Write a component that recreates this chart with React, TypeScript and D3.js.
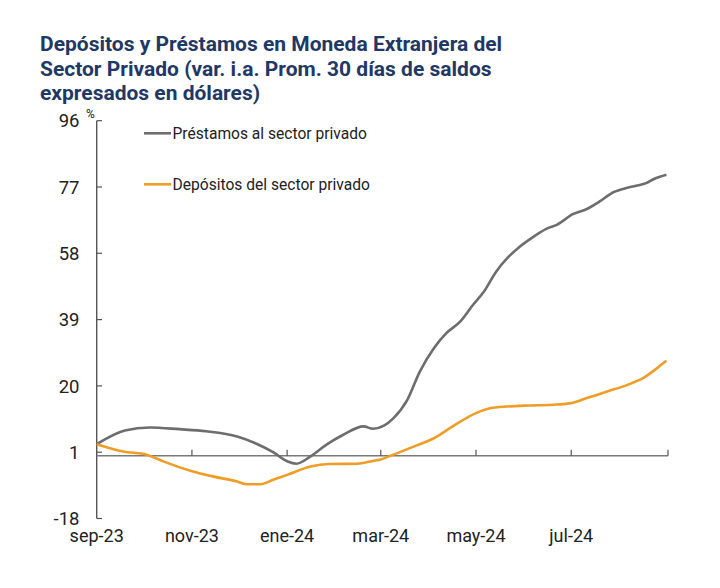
import React from "react";
import * as d3 from "d3";

const titleLines = [
  "Depósitos y Préstamos en Moneda Extranjera del",
  "Sector Privado (var. i.a. Prom. 30 días de saldos",
  "expresados en dólares)",
];

const yTicks = [96, 77, 58, 39, 20, 1, -18];
const xTickDates = ["2023-11-01", "2024-01-01", "2024-03-01", "2024-05-01", "2024-07-01", "2024-09-01"];
const xLabelDates = ["2023-09-01", "2023-11-01", "2024-01-01", "2024-03-01", "2024-05-01", "2024-07-01"];
const xLabels = ["sep-23", "nov-23", "ene-24", "mar-24", "may-24", "jul-24"];

const loanDates = [
  "2023-09-01", "2023-09-19", "2023-10-05", "2023-10-24", "2023-11-10", "2023-11-30",
  "2023-12-12", "2023-12-23", "2024-01-01", "2024-01-07", "2024-01-16", "2024-01-26",
  "2024-02-06", "2024-02-19", "2024-02-25", "2024-03-03", "2024-03-09", "2024-03-18",
  "2024-03-26", "2024-04-04", "2024-04-12", "2024-04-21", "2024-04-29", "2024-05-06",
  "2024-05-14", "2024-05-21", "2024-05-29", "2024-06-07", "2024-06-15", "2024-06-22",
  "2024-07-02", "2024-07-11", "2024-07-19", "2024-07-28", "2024-08-06", "2024-08-14",
  "2024-08-18", "2024-08-23", "2024-08-31",
];
const loanValues = [
  3.3, 7.2, 8.1, 7.6, 7.0, 5.5,
  3.5, 1.0, -1.6, -2.3, -0.2, 3.1,
  6.0, 8.4, 7.7, 8.6, 10.7, 16.0,
  24.1, 30.8, 35.1, 38.5, 43.2, 47.0,
  52.8, 56.6, 59.9, 62.8, 65.0, 66.2,
  69.2, 70.7, 72.8, 75.5, 76.8, 77.6,
  78.1, 79.3, 80.5,
];

const depDates = [
  "2023-09-01", "2023-09-18", "2023-10-03", "2023-10-14", "2023-10-31", "2023-11-15",
  "2023-11-30", "2023-12-06", "2023-12-15", "2023-12-23", "2024-01-01", "2024-01-16",
  "2024-01-28", "2024-02-15", "2024-02-25", "2024-02-29", "2024-03-09", "2024-03-22",
  "2024-04-04", "2024-04-16", "2024-05-01", "2024-05-10", "2024-05-21", "2024-06-04",
  "2024-06-19", "2024-06-30", "2024-07-11", "2024-07-24", "2024-08-06", "2024-08-16",
  "2024-08-25", "2024-08-31",
];
const depValues = [
  3.3, 1.2, 0.3, -1.7, -4.3, -6.0,
  -7.4, -8.2, -8.2, -6.9, -5.5, -3.1,
  -2.4, -2.3, -1.5, -1.2, 0.3, 2.6,
  5.0, 8.4, 12.2, 13.6, 14.1, 14.4,
  14.6, 15.0, 16.5, 18.4, 20.3, 22.2,
  25.1, 27.2,
];

const seriesNames = ["Préstamos al sector privado", "Depósitos del sector privado"];
const seriesColors = ["#6d6d6d", "#ef9d26"];

const parse = d3.timeParse("%Y-%m-%d");

export default function App() {
  const W = 720, H = 588;
  const x = d3.scaleTime()
    .domain([parse("2023-09-01")!, parse("2024-09-01")!])
    .range([96.7, 668]);
  const y = d3.scaleLinear().domain([-18, 96]).range([518.5, 120.7]);

  const line = d3.line<[Date, number]>()
    .x((d) => x(d[0]))
    .y((d) => y(d[1]))
    .curve(d3.curveMonotoneX);

  const loans: [Date, number][] = loanDates.map((d, i) => [parse(d)!, loanValues[i]]);
  const deps: [Date, number][] = depDates.map((d, i) => [parse(d)!, depValues[i]]);
  const series = [loans, deps];

  const font = "Roboto, 'Noto Sans', sans-serif";

  return (
    <svg width={W} height={H} style={{ position: "absolute", left: 0, top: 0, background: "#fff" }}>
      <rect width={W} height={H} fill="#fff" />
      {titleLines.map((t, i) => (
        <text key={i} x={40} y={51.5 + i * 24.5} fontFamily={font} fontWeight={700} fontSize={20} fill="#1f3864"
          transform={`translate(40,0) scale(1.05,1) translate(-40,0)`}>
          {t}
        </text>
      ))}
      {/* y axis */}
      <line x1={96.7} x2={96.7} y1={y(96)} y2={y(-18)} stroke="#555" strokeWidth={1.4} />
      {yTicks.map((t) => (
        <g key={t}>
          <line x1={96.7} x2={102} y1={y(t)} y2={y(t)} stroke="#555" strokeWidth={1.2} />
          <text x={79.5} y={y(t)} dy="0.36em" textAnchor="end" fontFamily={font} fontSize={18.5} fill="#222">
            {t}
          </text>
        </g>
      ))}
      <text x={86} y={118} fontFamily={font} fontSize={12} fill="#222">%</text>
      {/* x axis at zero */}
      <line x1={96.7} x2={668} y1={y(0)} y2={y(0)} stroke="#7a7a7a" strokeWidth={1.4} />
      {xTickDates.map((d) => (
        <line key={d} x1={x(parse(d)!)} x2={x(parse(d)!)} y1={y(0)} y2={y(0) - 6} stroke="#555" strokeWidth={1.2} />
      ))}
      {xLabels.map((l, i) => (
        <text key={l} x={x(parse(xLabelDates[i])!)} y={542} textAnchor="middle" fontFamily={font} fontSize={18} fill="#222">
          {l}
        </text>
      ))}
      {/* series */}
      {series.map((s, i) => (
        <path key={i} d={line(s) || ""} fill="none" stroke={seriesColors[i]} strokeWidth={2.6} strokeLinejoin="round" />
      ))}
      {/* legend */}
      {seriesNames.map((n, i) => (
        <g key={n}>
          <line x1={144} x2={171} y1={133.3 + i * 51} y2={133.3 + i * 51} stroke={seriesColors[i]} strokeWidth={2.6} />
          <text x={172.5} y={133.3 + i * 51} dy="0.35em" fontFamily={font} fontSize={15.6} fill="#222">
            {n}
          </text>
        </g>
      ))}
    </svg>
  );
}
